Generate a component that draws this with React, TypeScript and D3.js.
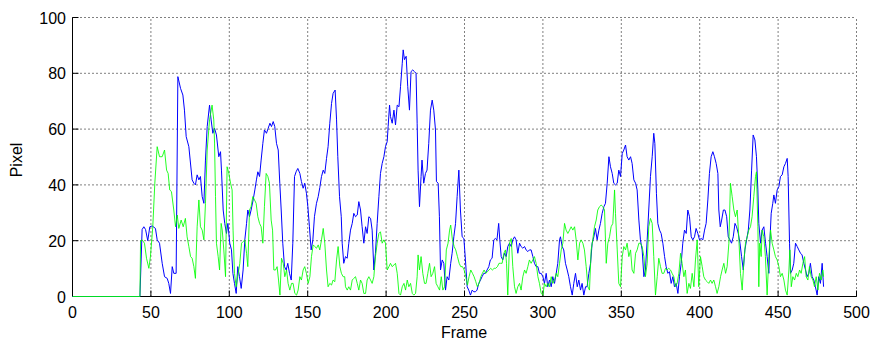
import { useEffect, useRef } from 'react'
import * as d3 from 'd3'

// [frame, pixel]
const blueSeries: [number, number][] = [
  [0, 0], [43, 0], [44.4, 24], [45.5, 25], [46.6, 24], [48, 20], [49.3, 25], [50.8, 25.3], [52.9, 24.4], [54, 20.3],
  [55.5, 19.1], [57.2, 11.9], [58.7, 7.1], [60.4, 6.5], [61.4, 4.7], [62.5, 1.1], [63.6, 10.7], [64.6, 8.3], [66.1, 8.3],
  [67.2, 78.8], [68.9, 74.6], [70.4, 72.2], [71.4, 66.8], [72.5, 57.3], [74.2, 53.7], [76.3, 41.8], [77.4, 40.6], [78.4, 40],
  [79.5, 43.6], [80.6, 41.8], [81.6, 43], [82.7, 35.8], [83.8, 33.4], [84.8, 48.9], [85.9, 60.9], [87.4, 68.6], [88.4, 63.3],
  [89.5, 58.5], [90.6, 60.3], [91.8, 57.9], [93.3, 50.1], [94.4, 51.9], [95, 45.3], [96.1, 31], [97.1, 26.2], [98.2, 22.6],
  [99.1, 26.2], [100.3, 19.1], [101.4, 16.7], [102.3, 8.3], [103.3, 4.7], [104.4, 1.1], [105.4, 10.7], [106.5, 7.1],
  [107.6, 2.9], [108.8, 9.5], [109.9, 20.3], [111, 26.2], [111.8, 31], [112.9, 28.6], [113.9, 31], [115.2, 34.6],
  [116.3, 38.2], [117.3, 41.8], [118.2, 44.7], [119.3, 43], [120.3, 48.9], [121.4, 54.9], [122.4, 59.7], [123.7, 58.5],
  [124.8, 60.3], [125.9, 62.1], [126.9, 60.9], [128, 62.7], [129, 60.9], [130.1, 54.9], [131.2, 52.5], [132.2, 40.6],
  [133.1, 31], [134.1, 19.1], [135.2, 10.7], [136.3, 9.5], [137.3, 11.9], [138.4, 8.3], [139.5, 5.9], [140.5, 19.1],
  [141.6, 43], [142.6, 44.7], [143.7, 45.9], [145, 44.1], [146, 41.2], [147.1, 38.8], [148.1, 40.6], [149.2, 37],
  [150.1, 32.2], [151.1, 25], [152.2, 16.7], [153.3, 20.3], [154.3, 28.6], [155.6, 33.4], [156.7, 35.8], [157.7, 39],
  [158.8, 43], [159.9, 45.3], [160.9, 44.1], [162, 49.5], [163, 53.7], [164.1, 62.1], [165.2, 69.2], [166.2, 72.8],
  [167.5, 74], [168.4, 63.3], [169.2, 50.1], [170.3, 35.8], [171.4, 28.6], [172, 19.1], [173, 11.9], [174.1, 14.3],
  [175.2, 13.7], [176.2, 19.1], [177.3, 23.8], [178.4, 26.2], [179.4, 29.8], [180.5, 28.6], [181.6, 29.2], [182.6, 34],
  [183.7, 31], [184.7, 25], [185.8, 19.1], [186.9, 25], [187.9, 22.6], [189, 28.6], [190.1, 28], [191.1, 23.8], [192.2, 9.5],
  [193.2, 15.5], [194.3, 26.2], [195.4, 35.8], [196.4, 44.1], [197.5, 47.7], [198.6, 50.1], [199.6, 53.7], [200.7, 55.5],
  [201.3, 60.9], [202.2, 68.6], [202.8, 64.5], [203.9, 62.1], [205, 66.8], [206, 61.5], [207.1, 68.6], [208.2, 68],
  [209.2, 75.2], [210.3, 83.6], [210.9, 88.4], [211.7, 84.9], [212.8, 86.1], [213.8, 75.2], [214.9, 66.8], [215.9, 80.6],
  [217, 81.2], [218.1, 80.6], [219.1, 80], [219.8, 62.1], [220.4, 45.3], [221.3, 32.2], [222.3, 43], [222.9, 48.9],
  [224, 40.6], [225.1, 44.1], [226.1, 45.3], [227.2, 54.9], [228.3, 66.8], [229.4, 70.4], [230.4, 66.8], [231.5, 59.7],
  [232.1, 41.2], [233.2, 40.6], [234, 28.6], [234.7, 9.5], [235.8, 13.1], [236.8, 11.9], [237.9, 2.3], [238.9, 7.1],
  [240, 5.9], [241.2, 11.9], [242.1, 15.5], [243.2, 21.4], [244.3, 26.2], [245.3, 35.8], [246.4, 45.3], [247.4, 31],
  [248.5, 21.4], [249.6, 20.8], [250.6, 13.1], [251.7, 3.5], [252.7, 2.3], [253.8, 0.5], [254.9, 2.3], [255.9, 1.7],
  [257, 1.7], [258, 2.3], [259.1, 4.7], [260.2, 5.9], [261.2, 7.1], [262.3, 8.3], [263.3, 8.3], [264.4, 9.5], [265.5, 10.7],
  [266.5, 13.1], [267.6, 13.7], [268.7, 20.3], [269.7, 20.8], [270.7, 20.3], [271.8, 26.2], [272.5, 20.3], [273.4, 14.3],
  [274.4, 13.1], [275.5, 15.5], [276.6, 14.3], [277.6, 17.9], [278.7, 19.1], [279.8, 17.9], [280.8, 20.3], [281.9, 21.4],
  [282.9, 20.3], [284, 15.5], [285.1, 19.1], [286.1, 17.9], [287.2, 17.3], [288.3, 17.9], [289.3, 16.7], [290.4, 16.1],
  [291.4, 16.7], [292.5, 16.7], [293.6, 14.3], [294.6, 11.9], [295.7, 10.7], [296.8, 10.7], [297.8, 8.3], [298.9, 8.3],
  [300, 7.1], [301, 4.7], [302.1, 8.3], [303.1, 3.5], [304.2, 5.9], [305.3, 3.5], [306.3, 7.1], [307.4, 4.7], [308.5, 8.3],
  [309.5, 11.9], [310.6, 20.3], [311.2, 21.4], [312.3, 17.9], [313.3, 16.7], [314.4, 11.9], [315.5, 9.5], [316.5, 7.1],
  [317.6, 3.5], [318.7, 0.5], [319.7, 4.7], [320.8, 8.3], [321.9, 3.5], [322.9, 5.9], [324, 2.3], [325, 4.7], [326.1, 0.5],
  [327.2, 3.5], [328.2, 3.5], [329.3, 8.3], [330.4, 11.9], [331.4, 19.1], [332.5, 21.4], [333.5, 24.4], [334.6, 20.3],
  [335.7, 23.8], [336.7, 26.2], [337.8, 29.8], [338.9, 32.2], [339.9, 33.4], [341, 40.6], [342.1, 50.1], [343.1, 46.5],
  [344.2, 44.1], [345.2, 40.6], [346.3, 40], [347.4, 40.6], [348.4, 45.3], [349.5, 43], [350.6, 51.3], [351.6, 52.5],
  [352.7, 54.3], [353.7, 50.1], [354.8, 48.9], [355.9, 50.1], [356.9, 47.7], [358, 41.8], [359.1, 40.6], [360.1, 38.2],
  [361.2, 27.4], [362.2, 20.3], [363.3, 16.7], [364.4, 7.1], [365.4, 9.5], [366.5, 20.3], [367.5, 31], [368.6, 43],
  [369.7, 50.1], [370.7, 58.5], [371.4, 54.9], [372.4, 37], [373.3, 26.2], [374.4, 23.8], [375.4, 22.6], [376.5, 19.1],
  [377.6, 14.3], [378.6, 10.7], [379.7, 8.3], [380.7, 8.9], [381.8, 4.7], [382.9, 7.1], [383.9, 3.5], [385, 4.7],
  [386.1, 1.1], [387.1, 7.1], [388.2, 11.9], [389.2, 19.1], [390.3, 23.8], [391.4, 22.6], [392.4, 31], [393.5, 28.6],
  [394.6, 21.4], [395.6, 20.3], [396.7, 21.4], [397.7, 24.4], [398.8, 22.6], [399.9, 20.3], [400.9, 20.8], [402, 20.3],
  [403.1, 23.8], [404.1, 26.2], [405.2, 34.6], [406.2, 44.1], [407.3, 50.1], [408.4, 51.9], [409.4, 50.1], [410.5, 47.7],
  [411.6, 44.1], [412.2, 31], [413.1, 25], [414, 27.4], [415.1, 31], [416.1, 31], [417.2, 28.6], [418.2, 21.4],
  [419.3, 20.3], [420.3, 19.1], [421.4, 21.4], [422.5, 26.2], [423.5, 25], [424.6, 22.6], [425.7, 19.1], [426.7, 14.3],
  [427.8, 9.5], [428.8, 16.7], [429.9, 20.3], [431, 23.8], [432, 31], [433.1, 45.3], [434.1, 57.9], [435.2, 56.1],
  [436.2, 50.1], [437.1, 38.2], [437.7, 26.2], [438.8, 19.1], [439.8, 23.8], [440.9, 25], [442, 19.1], [443, 14.3],
  [444.1, 8.3], [444.7, 19.1], [445.6, 29.8], [446.6, 33.4], [447.3, 36.4], [448.3, 33.4], [449.4, 38.2], [450.5, 39.4],
  [451.5, 43], [452.6, 43.6], [453.7, 46.5], [454.7, 47.7], [455.8, 49.5], [456.4, 43], [457.3, 19.1], [457.9, 8.3],
  [459, 9.5], [460, 11.9], [461.1, 19.1], [462.2, 17.9], [463.2, 16.7], [464.3, 15.5], [465.3, 14.9], [466.4, 11.9],
  [467.5, 9.5], [468.5, 7.1], [469.6, 8.3], [470.6, 11.9], [471.7, 7.1], [472.8, 5.9], [473.8, 3.5], [474.9, 0.5],
  [475.9, 7.1], [477, 4.7], [478.1, 11.9], [479, 3.5],
]

const greenSeries: [number, number][] = [
  [0, 0], [43, 0], [43.4, 20], [44.4, 20.3], [45.9, 19.1], [47.2, 13.7], [48.7, 10.1], [49.7, 14.3], [51.2, 25], [52.5, 40.6],
  [54, 53.7], [55.5, 50.1], [57.2, 50.1], [58.7, 52.5], [60, 45.3], [61, 44.1], [62, 38.2], [63.1, 37.6], [64.6, 31],
  [65.7, 25], [66.8, 29.2], [67.8, 24.4], [69.3, 27.4], [70.6, 25], [72, 28], [73.1, 21.4], [74.2, 17.9], [75.3, 14.3],
  [76.3, 13.7], [77.4, 10.7], [78.4, 6.5], [79.5, 25], [80.6, 34.6], [81.6, 25], [82.7, 23.8], [83.8, 20.3], [84.8, 33.4],
  [85.9, 52.5], [87.4, 63.3], [89, 68.6], [90.1, 63.3], [90.6, 55], [91.2, 35.8], [91.8, 19.1], [92.9, 14.3], [93.8, 9.5],
  [94.8, 26.2], [95.5, 23.8], [96.5, 16.7], [97.6, 7.1], [98.6, 46.5], [99.7, 44.1], [100.8, 40.6], [101.8, 38.2],
  [102.4, 23.8], [103.3, 8.3], [104.4, 3.5], [105.4, 7.1], [106.7, 11.9], [107.8, 19.1], [108.8, 19.7], [109.9, 20.3],
  [111, 15.5], [111.8, 10.7], [112.9, 31], [113.9, 32.2], [115, 35.8], [116.1, 34.6], [117.1, 33.4], [118.2, 28.6],
  [119.3, 26.2], [120.3, 25], [121.4, 19.1], [122.4, 32.2], [123.5, 44.1], [124.6, 43], [125.6, 40.6], [126.7, 27.4],
  [127.6, 23.8], [128.4, 9.5], [129.5, 9.5], [130.5, 10.7], [131.4, 5.9], [132.3, 0.5], [133.3, 13.7], [134.4, 11.9],
  [135.4, 7.1], [136.5, 9.5], [137.5, 4.7], [138.6, 2.3], [139.7, 4.7], [140.7, 4.7], [141.8, 1.1], [142.9, 0.5],
  [143.9, 2.3], [145, 7.1], [146, 5.9], [147.1, 9.5], [148.1, 10.7], [149.2, 8.3], [150.3, 4.7], [151.4, 7.1],
  [152.4, 14.3], [153.5, 18.5], [154.5, 17.9], [155.6, 17.3], [156.7, 18.5], [157.7, 16.7], [158.8, 20.3], [159.9, 24.4],
  [160.9, 19.1], [162, 9.5], [163, 3.5], [164.1, 4.7], [165.2, 4.1], [166.2, 5.9], [167.3, 5.3], [168.4, 13.1],
  [169.4, 17.9], [170.5, 10.7], [171.5, 8.3], [172.6, 7.1], [173.6, 7.1], [174.1, 3.5], [175.2, 2.3], [176.2, 3.5],
  [177.3, 2.3], [178.4, 5.9], [179.4, 6.5], [180.5, 7.1], [181.6, 4.7], [182.6, 2.3], [183.7, 5.9], [184.7, 4.7],
  [185.8, 1.1], [186.9, 1.1], [187.9, 5.9], [189, 7.1], [190.1, 5.9], [191.1, 4.7], [192.2, 7.1], [193.2, 14.3],
  [194.3, 19.1], [195.4, 22.6], [196.4, 23.2], [197.5, 19.1], [198.6, 20.3], [199.6, 19.1], [200.7, 9.5], [201.8, 10.7],
  [202.8, 11.9], [203.9, 10.7], [205, 11.3], [206, 11.9], [207.1, 8.3], [208.2, 1.1], [209.2, 0.5], [210.3, 3.5],
  [211.4, 4.7], [212.4, 2.3], [213.5, 5.9], [214.5, 3.5], [215.6, 4.7], [216.7, 1.1], [217.7, 0.5], [218.8, 1.1],
  [219.8, 7.1], [220.4, 14.9], [221.3, 9.5], [222.3, 14.3], [223.4, 8.3], [224.5, 4.7], [225.5, 4.7], [226.6, 8.3],
  [227.7, 11.9], [228.7, 7.1], [229.8, 8.3], [230.9, 10.7], [231.9, 4.7], [233, 3.5], [234.1, 2.3], [235.2, 7.1],
  [236.2, 2.3], [237.3, 3.5], [238.4, 16.7], [239.5, 19.1], [240.5, 23.8], [241.2, 25.6], [242.3, 20.3], [243.4, 17.9],
  [244.4, 16.7], [245.5, 14.3], [246.6, 11.9], [247.6, 10.7], [248.7, 10.7], [249.8, 9.5], [250.8, 7.1], [251.9, 4.1],
  [252.9, 7.1], [254, 9.5], [255.1, 8.3], [256.1, 7.1], [257.2, 5.3], [258.2, 3.5], [259.3, 4.7], [260.4, 7.1],
  [261.4, 8.3], [262.5, 9.5], [263.6, 8.3], [264.6, 8.9], [265.7, 9.5], [266.7, 10.1], [267.8, 9.5], [268.9, 10.1],
  [269.9, 10.1], [271, 10.7], [272, 11.9], [272.9, 11.9], [274, 11.9], [275.1, 15.5], [276.1, 16.7], [276.8, 11.9],
  [277.6, 0.5], [278.7, 19.1], [279.8, 20.8], [280.8, 10.7], [281.9, 3.5], [282.9, 1.1], [284, 3.5], [285.1, 4.7],
  [286.1, 2.3], [287.2, 7.1], [288.3, 9.5], [289.3, 8.3], [290.4, 10.7], [291.4, 13.1], [292.5, 11.9], [293.6, 13.1],
  [294.6, 14.3], [295.7, 11.9], [296.8, 7.1], [297.8, 4.7], [298.9, 1.1], [300, 0.5], [301, 4.7], [302.1, 3.5],
  [303.1, 4.7], [304.2, 3.5], [305.3, 7.1], [306.3, 4.7], [307.4, 5.9], [308.5, 8.3], [309.5, 7.1], [310.6, 11.9],
  [311.7, 16.7], [312.7, 19.1], [313.8, 26.2], [314.8, 23.8], [315.9, 22.6], [317, 23.8], [318, 25], [319.1, 23.8],
  [320.2, 25], [321.2, 20.3], [322.3, 13.1], [323.4, 19.1], [324.4, 20.3], [325.5, 19.1], [326.5, 16.7], [327.6, 10.7],
  [328.7, 3.5], [329.7, 2.3], [330.8, 16.7], [331.8, 20.3], [332.9, 25], [334, 27.4], [335, 31], [336.1, 32.2],
  [337.2, 32.8], [338.2, 32.2], [339.3, 31], [340.4, 11.9], [341.4, 19.1], [342.5, 21.4], [343.5, 25], [344.6, 26.2],
  [345.7, 38.2], [346.3, 29.8], [347.4, 16.7], [348.4, 4.7], [349.5, 3.5], [350.6, 14.3], [351.6, 17.9], [352.7, 16.7],
  [353.7, 19.1], [354.8, 14.3], [355.9, 16.7], [356.9, 9.5], [358, 8.3], [359.1, 15.5], [360.1, 16.7], [361.2, 19.1],
  [362.2, 19.1], [363.3, 17.9], [364.4, 14.3], [365.4, 7.1], [366.5, 11.9], [367.5, 25], [368.6, 28], [369.7, 26.2],
  [370.7, 14.3], [371.8, 0.5], [372.9, 7.1], [373.9, 13.7], [375, 10.7], [376, 8.3], [377.1, 8.3], [378.2, 10.1],
  [379.2, 9.5], [380.3, 10.1], [381.4, 9.5], [382.4, 8.3], [383.5, 7.1], [384.6, 3.5], [385.6, 4.7], [386.7, 8.3],
  [387.8, 15.5], [388.8, 11.9], [389.9, 7.1], [390.9, 9.5], [392, 1.1], [393.1, 4.7], [394.1, 2.9], [395.2, 8.3],
  [396.3, 3.5], [397.3, 13.1], [398.4, 20.3], [399.4, 3.5], [400.5, 14.3], [401.6, 10.7], [402.6, 7.1], [403.7, 5.9],
  [404.8, 5.3], [405.8, 4.7], [406.9, 5.9], [407.9, 4.7], [409, 5.9], [410.1, 3.5], [411.1, 1.1], [412.2, 3.5],
  [413.3, 7.1], [414.3, 9.5], [415.4, 11.9], [416.5, 8.3], [417.5, 10.7], [418.6, 19.1], [419.6, 40.6], [420.7, 35.8],
  [421.8, 31], [422.8, 28.6], [423.9, 31], [424.9, 21.4], [426, 8.3], [427.1, 2.3], [428.1, 11.9], [429.2, 19.1],
  [430.3, 21.4], [431.3, 23.8], [432.4, 25], [433.4, 28.6], [434.5, 35.8], [435.6, 43], [436.2, 44.7], [437.1, 25],
  [437.7, 3.5], [438.3, 19.1], [439.2, 14.3], [439.8, 23.8], [440.9, 21.4], [441.9, 14.3], [443, 0.5], [444.1, 14.3],
  [445.2, 23.8], [446.2, 19.1], [447.3, 16.7], [448.3, 14.3], [449.4, 13.1], [450.5, 10.7], [451.5, 7.1], [452.6, 8.3],
  [453.7, 5.9], [454.7, 2.3], [455.8, 0.5], [456.9, 9.5], [457.5, 16.7], [458.4, 3.5], [459.4, 7.1], [460.5, 5.9],
  [461.6, 8.3], [462.6, 7.1], [463.7, 9.5], [464.7, 8.3], [465.8, 11.9], [466.9, 14.3], [467.9, 7.1], [469, 5.9],
  [470, 10.7], [471.1, 7.1], [472.2, 5.9], [473.2, 3.5], [474.3, 7.1], [475.4, 2.3], [476.4, 8.3], [477.5, 5.9],
  [478.5, 9.5], [479, 7.1],
]

const xTicks = [0, 50, 100, 150, 200, 250, 300, 350, 400, 450, 500]
const yTicks = [0, 20, 40, 60, 80, 100]

const W = 873
const H = 340
const FONT = '"Liberation Sans", Arial, sans-serif'

export default function App() {
  const ref = useRef<SVGSVGElement | null>(null)

  useEffect(() => {
    if (!ref.current) return
    const svg = d3.select(ref.current)
    svg.selectAll('*').remove()

    const x = d3.scaleLinear().domain([0, 500]).range([72.5, 856.5])
    const y = d3.scaleLinear().domain([0, 100]).range([296.5, 17.5])

    const grid = svg.append('g')
    grid
      .selectAll('line.vx')
      .data(xTicks.filter((t) => t > 0))
      .join('line')
      .attr('x1', (d) => x(d))
      .attr('x2', (d) => x(d))
      .attr('y1', y(0))
      .attr('y2', y(100))
      .attr('stroke', '#000')
      .attr('stroke-width', 1)
      .attr('stroke-dasharray', '1,3')
    grid
      .selectAll('line.hy')
      .data(yTicks.filter((t) => t > 0))
      .join('line')
      .attr('x1', x(0))
      .attr('x2', x(500))
      .attr('y1', (d) => y(d))
      .attr('y2', (d) => y(d))
      .attr('stroke', '#000')
      .attr('stroke-width', 1)
      .attr('stroke-dasharray', '1,3')

    // axes (MATLAB style, ticks inside)
    const axes = svg.append('g').attr('stroke', '#000').attr('stroke-width', 1)
    axes.append('line').attr('x1', x(0)).attr('x2', x(500)).attr('y1', y(0)).attr('y2', y(0))
    axes.append('line').attr('x1', x(0)).attr('x2', x(0)).attr('y1', y(0)).attr('y2', y(100))
    axes
      .selectAll('line.xt')
      .data(xTicks)
      .join('line')
      .attr('x1', (d) => x(d))
      .attr('x2', (d) => x(d))
      .attr('y1', y(0))
      .attr('y2', y(0) - 6)
    axes
      .selectAll('line.yt')
      .data(yTicks)
      .join('line')
      .attr('x1', x(0))
      .attr('x2', x(0) + 6)
      .attr('y1', (d) => y(d))
      .attr('y2', (d) => y(d))

    const line = d3
      .line<[number, number]>()
      .x((d) => x(d[0]))
      .y((d) => y(d[1]))

    svg
      .append('path')
      .datum(blueSeries)
      .attr('d', line)
      .attr('fill', 'none')
      .attr('stroke', '#0000ff')
      .attr('stroke-width', 1)
    svg
      .append('path')
      .datum(greenSeries)
      .attr('d', line)
      .attr('fill', 'none')
      .attr('stroke', '#00ff00')
      .attr('stroke-width', 1)
      .attr('stroke-opacity', 0.85)

    const labels = svg.append('g').style('font-family', FONT).style('font-size', '16px').attr('fill', '#000')
    labels
      .selectAll('text.xl')
      .data(xTicks)
      .join('text')
      .attr('x', (d) => x(d))
      .attr('y', 318)
      .attr('text-anchor', 'middle')
      .text((d) => d)
    labels
      .selectAll('text.yl')
      .data(yTicks)
      .join('text')
      .attr('x', 66)
      .attr('y', (d) => y(d) + 6)
      .attr('text-anchor', 'end')
      .text((d) => d)
    labels
      .append('text')
      .attr('x', 464)
      .attr('y', 338)
      .attr('text-anchor', 'middle')
      .text('Frame')
    labels
      .append('text')
      .attr('transform', 'translate(22,160) rotate(-90)')
      .attr('text-anchor', 'middle')
      .text('Pixel')
  }, [])

  return (
    <svg
      ref={ref}
      width={W}
      height={H}
      style={{ position: 'absolute', left: 0, top: 0, background: '#fff' }}
    />
  )
}
